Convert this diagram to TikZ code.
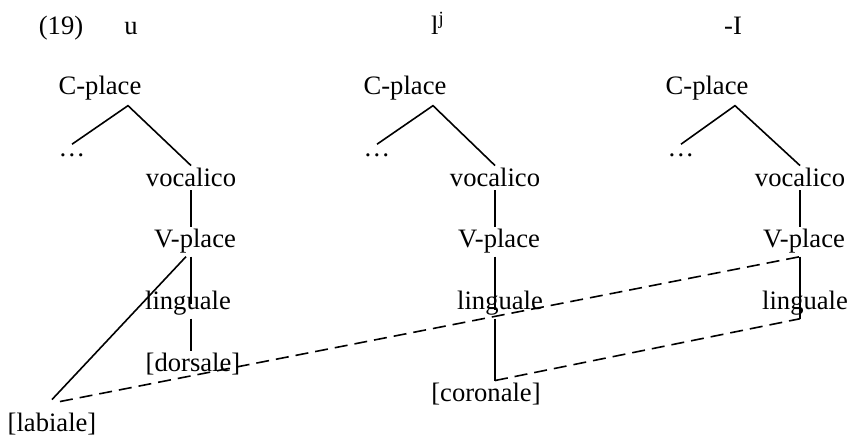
\documentclass[tikz,border=0pt]{standalone}
\usepackage{fontspec}
\setmainfont{Liberation Serif}
\usepackage{tikz}

\begin{document}
\begin{tikzpicture}[
  x=0.5pt, y=-0.5pt,
  font=\fontsize{13.3}{16}\selectfont,
  lbl/.style={anchor=base, inner sep=0pt, outer sep=1.5pt},
  branch/.style={line width=0.8pt},
  assoc/.style={line width=0.8pt, dash pattern=on 6.5pt off 3.5pt}
]
\useasboundingbox (0,0) rectangle (847,437);

\node[lbl] (num) at (61,35) {(19)};
\node[lbl] (seg1) at (131,35) {u};
\node[lbl] (seg2) at (438,35) {l\textsuperscript{j}};
\node[lbl] (seg3) at (733,35) {-I};

\node[lbl] (cp1) at (100,95) {C-place};
\node[lbl] (dots1) at (72,157) {…};
\node[lbl] (voc1) at (191,187) {vocalico};
\node[lbl] (vp1) at (195,248) {V-place};
\node[lbl] (ling1) at (188,310) {linguale};
\node[lbl] (dors) at (193,372) {[dorsale]};
\node[lbl] (lab) at (52,432) {[labiale]};

\node[lbl] (cp2) at (405,95) {C-place};
\node[lbl] (dots2) at (377,157) {…};
\node[lbl] (voc2) at (495,187) {vocalico};
\node[lbl] (vp2) at (499,248) {V-place};
\node[lbl] (ling2) at (500,310) {linguale};
\node[lbl] (cor) at (486,402) {[coronale]};

\node[lbl] (cp3) at (707,95) {C-place};
\node[lbl] (dots3) at (681,157) {…};
\node[lbl] (voc3) at (800,187) {vocalico};
\node[lbl] (vp3) at (804,248) {V-place};
\node[lbl] (ling3) at (805,310) {linguale};

\coordinate (top1) at ([xshift=14pt,yshift=-1pt]cp1.south);
\coordinate (top2) at ([xshift=14pt,yshift=-1pt]cp2.south);
\coordinate (top3) at ([xshift=14pt,yshift=-1pt]cp3.south);
\coordinate (labtop) at ([yshift=5.5pt]lab.north);

\draw[branch] ([yshift=3.5pt]dots1.north) -- (top1) -- (voc1.north);
\draw[branch] (voc1.south) -- (voc1.south |- vp1.north);
\draw[branch] (vp1.south -| voc1.south) -- (ling1.center -| voc1.south);
\draw[branch] (ling1.south -| voc1.south) -- (dors.north -| voc1.south);
\draw[branch] ([xshift=-4.5pt]vp1.south) -- (labtop);

\draw[branch] ([yshift=3.5pt]dots2.north) -- (top2) -- (voc2.north);
\draw[branch] (voc2.south) -- (voc2.south |- vp2.north);
\draw[branch] (vp2.south -| voc2.south) -- (ling2.base -| voc2.south);
\draw[branch] (ling2.south -| voc2.south) -- (cor.north -| voc2.south);

\draw[branch] ([yshift=3.5pt]dots3.north) -- (top3) -- (voc3.north);
\draw[branch] (voc3.south) -- (voc3.south |- vp3.north);
\draw[branch] (vp3.south -| voc3.south) -- (ling3.south -| voc3.south);

\draw[assoc] ([xshift=4pt,yshift=-1pt]labtop) -- (vp3.south -| voc3.south);
\draw[assoc] (cor.north -| voc2.south) -- (ling3.south -| voc3.south);

\end{tikzpicture}
\end{document}
